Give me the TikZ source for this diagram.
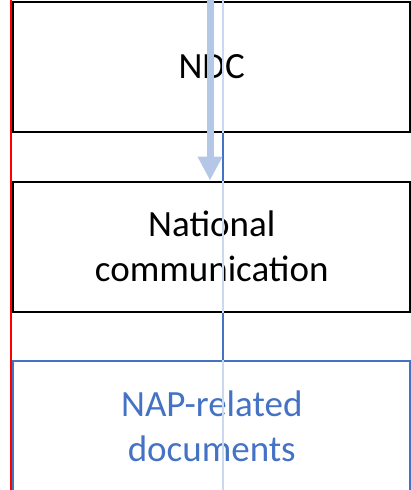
\documentclass[tikz,border=0pt]{standalone}
\usepackage{fontspec}
\setmainfont{Carlito}
\usetikzlibrary{arrows.meta}
\definecolor{accblue}{HTML}{4472C4}
\definecolor{arrowblue}{HTML}{B4C7E7}
\definecolor{guideblue}{HTML}{CAD8F0}
\tikzset{
  docbox/.style={draw=black, line width=2pt, minimum width=396.9pt, minimum height=130pt,
    inner sep=0pt, align=center, font=\fontsize{37}{45}\selectfont, anchor=north west},
  napbox/.style={docbox, draw=accblue, text=accblue},
  link/.style={draw=accblue, line width=1.5pt},
}
\begin{document}
\begin{tikzpicture}[x=1pt,y=-1pt]
\useasboundingbox (0,0) rectangle (411,490);
\clip (0,0) rectangle (411,490);
\node[docbox] (ndc) at (12.3,1) {NDC};
\node[docbox] (natcom) at (12.3,180.5) {National\\communication};
\node[napbox] (nap) at (12.3,360) {NAP-related\\documents};
% connectors between boxes
\coordinate (gx) at (222.8,0);
\coordinate (gtop) at (222.8,-2);
\coordinate (gbot) at (222.8,495);
\draw[guideblue, line width=2.2pt] (gtop) -- (gbot);
\draw[link] (ndc.south -| gx) -- (natcom.north -| gx);
\draw[link] (natcom.south -| gx) -- (nap.north -| gx);
% thick arrow
\coordinate (astart) at (210,-2);
\draw[arrowblue, line width=7pt, -{Triangle[width=23.3pt,length=24pt]}] (astart) -- (natcom.north -| astart);
% red line
\coordinate (rtop) at (10.8,-2);
\coordinate (rbot) at (10.8,495);
\draw[red, line width=2pt] (rtop) -- (rbot);
\end{tikzpicture}
\end{document}
